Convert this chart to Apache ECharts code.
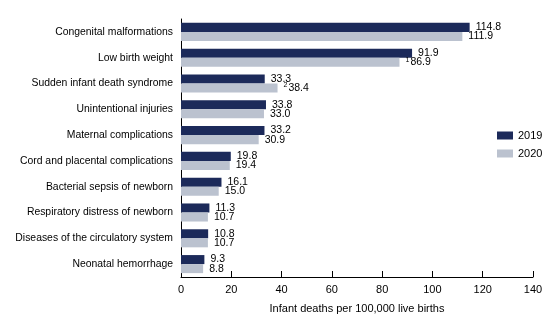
<!DOCTYPE html>
<html>
<head>
<meta charset="utf-8">
<script src="https://cdn.jsdelivr.net/npm/echarts@6/dist/echarts.min.js"></script>
<style>
html,body{margin:0;padding:0;background:#fff;}
#chart{width:560px;height:324px;}
</style>
</head>
<body>
<div id="chart"></div>
<script>
const categories = [
  "Congenital malformations",
  "Low birth weight",
  "Sudden infant death syndrome",
  "Unintentional injuries",
  "Maternal complications",
  "Cord and placental complications",
  "Bacterial sepsis of newborn",
  "Respiratory distress of newborn",
  "Diseases of the circulatory system",
  "Neonatal hemorrhage"
];
const values2019 = [114.8, 91.9, 33.3, 33.8, 33.2, 19.8, 16.1, 11.3, 10.8, 9.3];
const values2020 = [111.9, 86.9, 38.4, 33.0, 30.9, 19.4, 15.0, 10.7, 10.7, 8.8];
const notes2020 = ["", "1", "2", "", "", "", "", "", "", ""];
const xTicks = [0, 20, 40, 60, 80, 100, 120, 140];

const FONT = "Liberation Sans, Arial, sans-serif";
const chart = echarts.init(document.getElementById('chart'), null, {renderer: 'canvas'});

const labelBase = {
  show: true,
  position: 'right',
  distance: 6,
  color: '#000',
  fontFamily: FONT,
  fontSize: 10.5
};

chart.setOption({
  animation: false,
  backgroundColor: '#fff',
  grid: {left: 181, right: 27, top: 19, bottom: 47, containLabel: false},
  legend: {
    orient: 'vertical',
    left: 497,
    top: 130,
    padding: 0,
    icon: 'rect',
    itemWidth: 16,
    itemHeight: 8,
    itemGap: 7,
    textStyle: {fontFamily: FONT, fontSize: 11, color: '#000'},
    data: ['2019', '2020']
  },
  xAxis: {
    type: 'value',
    min: xTicks[0],
    max: xTicks[xTicks.length - 1],
    interval: 20,
    name: 'Infant deaths per 100,000 live births',
    nameLocation: 'middle',
    nameGap: 26,
    nameTextStyle: {fontFamily: FONT, fontSize: 11, color: '#000'},
    axisLine: {show: true, lineStyle: {color: '#000', width: 1}},
    axisTick: {show: true, inside: true, length: 6, lineStyle: {color: '#000'}},
    axisLabel: {fontFamily: FONT, fontSize: 11, color: '#000', margin: 7},
    splitLine: {show: false}
  },
  yAxis: {
    type: 'category',
    data: categories,
    inverse: true,
    axisLine: {show: true, onZero: false, lineStyle: {color: '#000', width: 1}},
    axisTick: {show: false},
    axisLabel: {fontFamily: FONT, fontSize: 10.4, color: '#000', margin: 8}
  },
  series: [
    {
      name: '2019',
      type: 'bar',
      data: values2019,
      barGap: '0%',
      barCategoryGap: '30%',
      itemStyle: {color: '#1c2a5a'},
      label: Object.assign({}, labelBase, {
        formatter: p => p.value.toFixed(1)
      })
    },
    {
      name: '2020',
      type: 'bar',
      data: values2020,
      barGap: '0%',
      barCategoryGap: '30%',
      itemStyle: {color: '#bbc2cf'},
      label: Object.assign({}, labelBase, {
        formatter: p => {
          const n = notes2020[p.dataIndex];
          return (n ? '{sup|' + n + '}' : '') + '{v|' + p.value.toFixed(1) + '}';
        },
        rich: {
          sup: {fontFamily: FONT, fontSize: 7, color: '#000', lineHeight: 12, verticalAlign: 'top', padding: [0, 1, 0, 0]},
          v: {fontFamily: FONT, fontSize: 10.5, color: '#000', lineHeight: 12, verticalAlign: 'middle'}
        }
      })
    }
  ]
});
</script>
</body>
</html>
